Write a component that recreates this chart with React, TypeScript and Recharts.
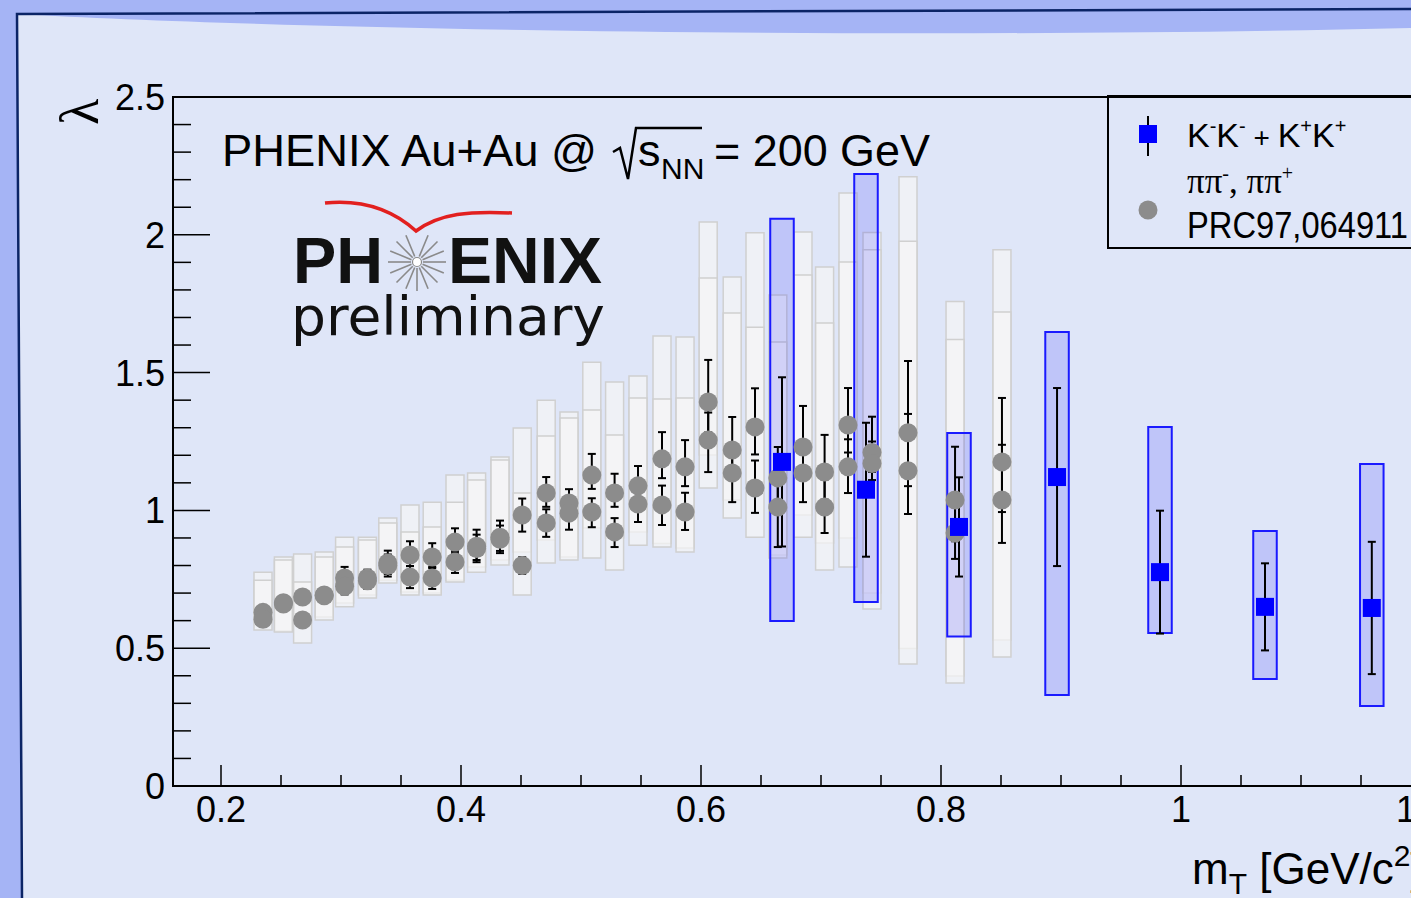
import React from 'react'
import { ComposedChart, Scatter, XAxis, YAxis, ErrorBar, ReferenceArea } from 'recharts'

// pi-pi lambda vs mT (two charge combinations per mT bin: A = upper, B = lower)
const pionMt = [0.235, 0.252, 0.268, 0.286, 0.303, 0.322, 0.339, 0.3575, 0.376, 0.395, 0.413, 0.4325, 0.451, 0.471, 0.49, 0.509, 0.528, 0.5475, 0.5675, 0.5867, 0.606, 0.626, 0.645, 0.664, 0.685, 0.703, 0.7225, 0.7425, 0.7725, 0.8117, 0.8508]
const pionLambdaA = [0.63, 0.665, 0.686, 0.693, 0.755, 0.755, 0.809, 0.838, 0.831, 0.885, 0.87, 0.903, 0.983, 1.063, 1.027, 1.128, 1.063, 1.089, 1.187, 1.158, 1.393, 1.219, 1.303, 1.118, 1.23, 1.139, 1.31, 1.21, 1.282, 1.038, 1.176]
const pionStatA = [[0.02, 0.02], [0.02, 0.02], [0.02, 0.02], [0.02, 0.02], [0.03, 0.04], [0.03, 0.03], [0.04, 0.045], [0.04, 0.05], [0.04, 0.05], [0.04, 0.05], [0.05, 0.06], [0.05, 0.06], [0.06, 0.06], [0.05, 0.058], [0.04, 0.05], [0.05, 0.077], [0.05, 0.07], [0.05, 0.072], [0.07, 0.097], [0.07, 0.097], [0.11, 0.153], [0.09, 0.12], [0.1, 0.14], [0.1, 0.112], [0.1, 0.149], [0.1, 0.135], [0.1, 0.134], [0.07, 0.13], [0.194, 0.26], [0.15, 0.193], [0.182, 0.232]]
const pionSysA = [[0.595, 0.776], [0.562, 0.831], [0.595, 0.842], [0.613, 0.849], [0.664, 0.903], [0.693, 0.903], [0.747, 0.972], [0.704, 1.02], [0.7, 1.03], [0.747, 1.128], [0.795, 1.136], [0.82, 1.194], [0.849, 1.299], [0.893, 1.4], [0.831, 1.357], [0.936, 1.538], [0.9, 1.466], [0.922, 1.488], [0.88, 1.633], [0.864, 1.629], [1.201, 2.046], [1.038, 1.847], [1.1, 2.007], [0.838, 1.782], [0.983, 2.01], [0.882, 1.883], [0.9, 2.152], [0.7, 2.008], [0.499, 2.211], [0.399, 1.758], [0.53, 1.946]]
const pionLambdaB = [0.605, 0.66, 0.602, 0.69, 0.725, 0.745, 0.8, 0.758, 0.755, 0.813, 0.862, 0.895, 0.8, 0.954, 0.99, 0.994, 0.922, 1.023, 1.02, 0.994, 1.255, 1.136, 1.081, 1.012, 1.136, 1.012, 1.158, 1.17, 1.144, 0.918, 1.038]
const pionStatB = [[0.02, 0.02], [0.02, 0.02], [0.02, 0.02], [0.02, 0.02], [0.03, 0.03], [0.03, 0.03], [0.04, 0.04], [0.04, 0.04], [0.04, 0.04], [0.04, 0.04], [0.05, 0.05], [0.05, 0.05], [0.03, 0.03], [0.05, 0.05], [0.06, 0.04], [0.055, 0.05], [0.055, 0.05], [0.065, 0.05], [0.073, 0.07], [0.065, 0.07], [0.116, 0.1], [0.106, 0.09], [0.09, 0.1], [0.145, 0.1], [0.106, 0.1], [0.094, 0.1], [0.095, 0.1], [0.06, 0.08], [0.157, 0.206], [0.094, 0.12], [0.156, 0.2]]
const pionSysB = [[0.566, 0.747], [0.559, 0.82], [0.519, 0.74], [0.602, 0.831], [0.65, 0.867], [0.682, 0.893], [0.737, 0.954], [0.693, 0.922], [0.693, 0.94], [0.74, 1.03], [0.776, 1.11], [0.802, 1.183], [0.693, 1.063], [0.809, 1.27], [0.82, 1.335], [0.827, 1.364], [0.784, 1.274], [0.874, 1.408], [0.867, 1.404], [0.849, 1.408], [1.081, 1.843], [0.972, 1.716], [0.903, 1.665], [0.827, 1.611], [0.903, 1.854], [0.784, 1.68], [0.795, 1.901], [0.642, 1.946], [0.443, 1.977], [0.374, 1.62], [0.468, 1.72]]

// K-K- + K+K+
const kaonMt = [0.6675, 0.7375, 0.815, 0.8967, 0.9825, 1.07, 1.159]
const kaonLambda = [1.176, 1.075, 0.94, 1.121, 0.776, 0.65, 0.646]
const kaonStat = [0.307, 0.243, 0.18, 0.323, 0.223, 0.158, 0.24]
const kaonSysLo = [0.599, 0.668, 0.542, 0.33, 0.555, 0.388, 0.29]
const kaonSysHi = [2.058, 2.221, 1.281, 1.647, 1.303, 0.925, 1.168]

const xTicks = [0.2, 0.25, 0.3, 0.35, 0.4, 0.45, 0.5, 0.55, 0.6, 0.65, 0.7, 0.75, 0.8, 0.85, 0.9, 0.95, 1, 1.05, 1.1, 1.15, 1.2]
const xMajor = [0.2, 0.4, 0.6, 0.8, 1, 1.2]
const yTicks = [0, 0.1, 0.2, 0.3, 0.4, 0.5, 0.6, 0.7, 0.8, 0.9, 1, 1.1, 1.2, 1.3, 1.4, 1.5, 1.6, 1.7, 1.8, 1.9, 2, 2.1, 2.2, 2.3, 2.4, 2.5]
const yMajor = [0, 0.5, 1, 1.5, 2, 2.5]

const pionHalf = 0.0075
const kaonHalf = 0.0098
const FONT = '"Liberation Sans", Arial, sans-serif'

const pionA = pionMt.map((x, i) => ({ x, y: pionLambdaA[i], err: pionStatA[i] }))
const pionB = pionMt.map((x, i) => ({ x, y: pionLambdaB[i], err: pionStatB[i] }))
const kaons = kaonMt.map((x, i) => ({ x, y: kaonLambda[i], err: kaonStat[i] }))

const XTick = (props: any) => {
  const { x, y, payload } = props
  const major = xMajor.includes(payload.value)
  return (
    <g>
      <line x1={x} x2={x} y1={y} y2={y - (major ? 21 : 11)} stroke="#000" strokeWidth={1.5} />
      {major && (
        <text x={x} y={y + 36} textAnchor="middle" fontSize={36} fontFamily={FONT} fill="#000">
          {String(payload.value)}
        </text>
      )}
    </g>
  )
}

const YTick = (props: any) => {
  const { x, y, payload } = props
  const major = yMajor.includes(payload.value)
  return (
    <g>
      <line x1={x} x2={x + (major ? 37 : 18)} y1={y} y2={y} stroke="#000" strokeWidth={1.5} />
      {major && (
        <text x={x - 8} y={y + 13} textAnchor="end" fontSize={36} fontFamily={FONT} fill="#000">
          {String(payload.value)}
        </text>
      )}
    </g>
  )
}

const pionDot = (p: any) => <circle cx={p.cx} cy={p.cy} r={9.5} fill="#8c8c8c" />
const kaonDot = (p: any) => <rect x={p.cx - 9} y={p.cy - 9} width={18} height={18} fill="#0000ff" />

const starRays = [0, 22.5, 45, 67.5, 90, 112.5, 135, 157.5, 180, 202.5, 225, 247.5, 292.5, 315, 337.5]

export default function App() {
  return (
    <div style={{ position: 'fixed', left: 0, top: 0, width: 1411, height: 898, overflow: 'hidden', background: '#a5b4f5' }}>
      <svg width={1411} height={898} style={{ position: 'absolute', left: 0, top: 0 }}>
        <path d="M17,14 C 300,30 900,40 1411,28 L1411,898 L21,898 Z" fill="#dfe6f8" />
        <path d="M22,898 L17,14 L1411,9" stroke="#0b2466" strokeWidth={2.5} fill="none" />
      </svg>

      <div style={{ position: 'absolute', left: 0, top: 0 }}>
        <ComposedChart width={1440} height={898} margin={{ top: 97, right: 19, bottom: 52, left: 113 }}>
          <XAxis
            type="number"
            dataKey="x"
            domain={[0.16, 1.2]}
            ticks={xTicks}
            interval={0}
            tick={(p: any) => <XTick {...p} />}
            tickLine={false}
            axisLine={false}
            tickSize={0}
            tickMargin={0}
            height={60}
            allowDataOverflow
          />
          <YAxis
            type="number"
            dataKey="y"
            domain={[0, 2.5]}
            ticks={yTicks}
            interval={0}
            tick={(p: any) => <YTick {...p} />}
            tickLine={false}
            axisLine={false}
            tickSize={0}
            tickMargin={0}
            width={60}
            allowDataOverflow
          />
          <ReferenceArea x1={0.16} x2={1.2} y1={0} y2={2.5} fill="none" stroke="#000" strokeWidth={2} />
          {pionMt.map((x, i) => (
            <ReferenceArea
              key={'pa' + i}
              x1={x - pionHalf}
              x2={x + pionHalf}
              y1={pionSysA[i][0]}
              y2={pionSysA[i][1]}
              fill="#f5f5f5"
              fillOpacity={0.72}
              stroke="#d0d0d0"
              strokeWidth={1.5}
            />
          ))}
          {pionMt.map((x, i) => (
            <ReferenceArea
              key={'pb' + i}
              x1={x - pionHalf}
              x2={x + pionHalf}
              y1={pionSysB[i][0]}
              y2={pionSysB[i][1]}
              fill="#f5f5f5"
              fillOpacity={0.72}
              stroke="#d0d0d0"
              strokeWidth={1.5}
            />
          ))}
          <Scatter data={pionA} shape={pionDot} isAnimationActive={false}>
            <ErrorBar dataKey="err" direction="y" width={4} stroke="#000" strokeWidth={2} />
          </Scatter>
          <Scatter data={pionB} shape={pionDot} isAnimationActive={false}>
            <ErrorBar dataKey="err" direction="y" width={4} stroke="#000" strokeWidth={2} />
          </Scatter>
          {kaonMt.map((x, i) => (
            <ReferenceArea
              key={'k' + i}
              x1={x - kaonHalf}
              x2={x + kaonHalf}
              y1={kaonSysLo[i]}
              y2={kaonSysHi[i]}
              fill="#0000ff"
              fillOpacity={0.14}
              stroke="#1a1aff"
              strokeWidth={2}
            />
          ))}
          <Scatter data={kaons} shape={kaonDot} isAnimationActive={false}>
            <ErrorBar dataKey="err" direction="y" width={4} stroke="#000" strokeWidth={2} />
          </Scatter>
        </ComposedChart>
      </div>

      <svg width={1411} height={898} style={{ position: 'absolute', left: 0, top: 0, pointerEvents: 'none' }} fontFamily={FONT}>
        {/* y title */}
        <text transform="translate(80,112) rotate(-90)" fontFamily='"Liberation Serif", serif' fontSize={54} textAnchor="middle" dominantBaseline="central">λ</text>

        {/* title */}
        <text x={222} y={166} fontSize={45} textLength={375} lengthAdjust="spacingAndGlyphs">PHENIX Au+Au @</text>
        <path d="M613,152 L620,148 L628,179 L636,128 L702,128" stroke="#000" strokeWidth={2.5} fill="none" />
        <text x={638} y={166} fontSize={45}>s</text>
        <text x={661} y={179} fontSize={30}>NN</text>
        <text x={714} y={166} fontSize={45} textLength={216} lengthAdjust="spacingAndGlyphs">= 200 GeV</text>

        {/* PHENIX preliminary logo */}
        <path d="M325,203 C 365,199 395,212 416,231 C 440,213 470,211 512,213" stroke="#e2201f" strokeWidth={3.5} fill="none" />
        <text x={293} y={283} fontSize={64} fontWeight="bold" fill="#111" textLength={90} lengthAdjust="spacingAndGlyphs">PH</text>
        <g transform="translate(417,262)">
          {starRays.map((a) => (
            <line
              key={a}
              x1={6 * Math.cos((a * Math.PI) / 180)}
              y1={6 * Math.sin((a * Math.PI) / 180)}
              x2={29 * Math.cos((a * Math.PI) / 180)}
              y2={29 * Math.sin((a * Math.PI) / 180)}
              stroke="#8a8a8a"
              strokeWidth={1.6}
            />
          ))}
          <circle r={4.5} fill="#ffffff" stroke="#8a8a8a" strokeWidth={1.2} />
        </g>
        <text x={448} y={283} fontSize={64} fontWeight="bold" fill="#111" textLength={154} lengthAdjust="spacingAndGlyphs">ENIX</text>
        <text x={291} y={335} fontSize={54} fill="#111" fontFamily='"DejaVu Sans", sans-serif' textLength={314} lengthAdjust="spacingAndGlyphs">preliminary</text>

        {/* legend */}
        <rect x={1108} y={96} width={320} height={152} fill="none" stroke="#000" strokeWidth={2} />
        <line x1={1148} x2={1148} y1={116} y2={156} stroke="#000" strokeWidth={2} />
        <rect x={1139} y={125} width={18} height={18} fill="#0000ff" />
        <text x={1187} y={147} fontSize={34}>
          K<tspan fontSize={20} dy={-14}>-</tspan>
          <tspan dy={14}>K</tspan>
          <tspan fontSize={20} dy={-14}>-</tspan>
          <tspan fontSize={28} dy={14}> + </tspan>
          <tspan>K</tspan>
          <tspan fontSize={20} dy={-14}>+</tspan>
          <tspan dy={14}>K</tspan>
          <tspan fontSize={20} dy={-14}>+</tspan>
        </text>
        <circle cx={1148} cy={210} r={9.5} fill="#8c8c8c" />
        <text x={1187} y={193} fontSize={35} fontFamily='"Liberation Serif", serif'>
          ππ<tspan fontSize={20} dy={-13}>-</tspan>
          <tspan dy={13}>, ππ</tspan>
          <tspan fontSize={20} dy={-13}>+</tspan>
        </text>
        <text x={1187} y={238} fontSize={37} textLength={221} lengthAdjust="spacingAndGlyphs">PRC97,064911</text>

        {/* x title */}
        <text x={1192} y={884} fontSize={44}>
          m<tspan fontSize={30} dy={10}>T</tspan>
          <tspan dy={-10}> [GeV/c</tspan>
          <tspan fontSize={30} dy={-18}>2</tspan>
          <tspan dy={18}>]</tspan>
        </text>
      </svg>
    </div>
  )
}
